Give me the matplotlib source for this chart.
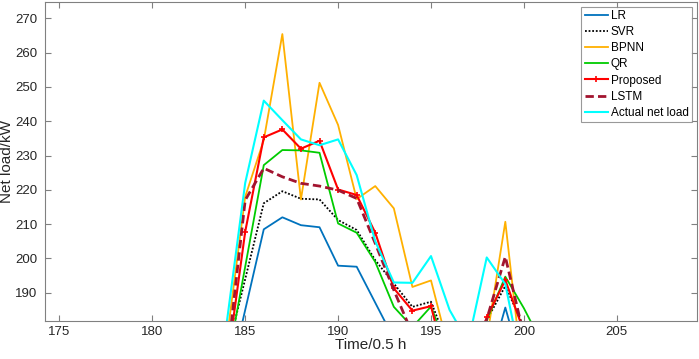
import matplotlib
matplotlib.use("Agg")
import matplotlib.pyplot as plt

plt.rcParams["font.family"] = ["Liberation Sans", "DejaVu Sans"]

time_steps = list(range(184, 202))

lr = [161.5, 185.0, 208.5, 212.0, 209.7, 209.1, 197.9, 197.6, 187.1, 176.6,
      170.0, 168.0, 165.0, 160.0, 166.5, 185.7, 166.5, 160.0]
svr = [172.0, 194.0, 216.1, 219.6, 217.4, 217.2, 211.2, 208.3, 199.5, 192.7,
       185.9, 187.4, 173.5, 170.0, 182.0, 192.0, 180.0, 175.0]
bpnn = [176.0, 218.0, 234.5, 265.4, 217.2, 251.2, 238.9, 217.3, 221.1, 214.6,
        191.7, 193.6, 172.6, 168.0, 176.4, 210.7, 162.7, 160.0]
qr = [168.0, 197.6, 227.2, 231.6, 231.5, 230.8, 210.2, 207.5, 199.0, 185.9,
      180.0, 186.0, 172.0, 170.0, 182.0, 194.7, 185.5, 175.0]
proposed = [168.0, 207.8, 235.3, 237.6, 232.0, 234.3, 220.1, 218.5, 207.5, 191.3,
            184.8, 186.1, 165.0, 168.0, 182.8, 193.7, 178.7, 170.0]
lstm = [169.0, 217.0, 226.3, 223.8, 221.9, 221.1, 219.9, 217.5, 204.4, 190.8,
        178.0, 175.0, 172.0, 170.0, 182.3, 200.5, 177.5, 170.0]
actual = [181.0, 222.0, 246.0, 240.3, 234.7, 233.0, 234.7, 224.3, 205.0, 193.0,
          192.9, 200.7, 185.0, 175.5, 200.3, 192.5, 166.0, 165.0]

x_ticks = [175, 180, 185, 190, 195, 200, 205]
y_ticks = [190, 200, 210, 220, 230, 240, 250, 260, 270]

fig = plt.figure(figsize=(6.99, 3.59), dpi=100)
ax = fig.add_axes([0.0637, 0.107, 0.933, 0.888])

ax.plot(time_steps, lr, color="#0072BD", lw=1.3, label="LR")
ax.plot(time_steps, svr, color="black", lw=1.3, linestyle=(0, (1, 1)), label="SVR")
ax.plot(time_steps, bpnn, color="#FFB000", lw=1.3, label="BPNN")
ax.plot(time_steps, qr, color="#00CC00", lw=1.3, label="QR")
ax.plot(time_steps, proposed, color="#FF0000", lw=1.5, marker="+", markersize=5,
        markeredgewidth=1.2, label="Proposed")
ax.plot(time_steps, lstm, color="#A2142F", lw=2.0, linestyle=(0, (3, 1.5)), label="LSTM")
ax.plot(time_steps, actual, color="#00FFFF", lw=1.5, label="Actual net load")

ax.set_xlim(174.2, 209.3)
ax.set_ylim(181.9, 274.8)
ax.set_xticks(x_ticks)
ax.set_yticks(y_ticks)
ax.tick_params(direction="in", length=4, width=0.8, colors="#808080",
               labelcolor="#262626", labelsize=9.5, top=True, right=True)
ax.tick_params(axis="y", pad=5)
ax.tick_params(axis="x", pad=4)
for spine in ax.spines.values():
    spine.set_color("#808080")
    spine.set_linewidth(0.8)

ax.set_xlabel("Time/0.5 h", fontsize=11, color="#262626", labelpad=0)
ax.set_ylabel("Net load/kW", fontsize=11, color="#262626", labelpad=1)

leg = ax.legend(loc="upper right", fontsize=8.5, frameon=True, fancybox=False,
                handlelength=2.0, handletextpad=0.2, labelspacing=0.35,
                borderpad=0.3, borderaxespad=0.4)
leg.get_frame().set_edgecolor("#808080")
leg.get_frame().set_linewidth(0.8)

fig.savefig("out.png", dpi=100)
